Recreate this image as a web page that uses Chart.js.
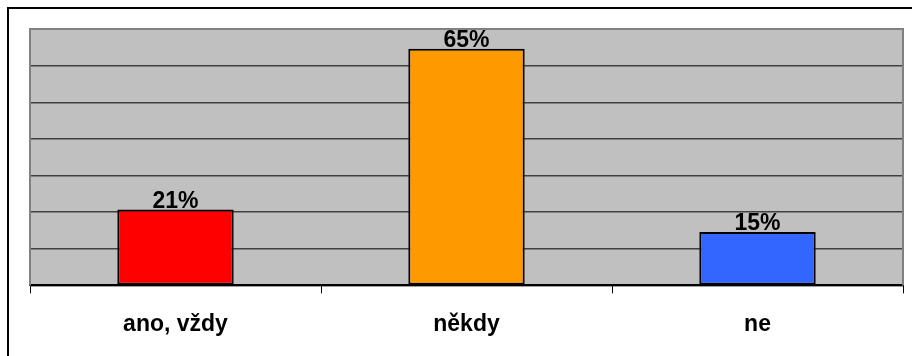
<!DOCTYPE html>
<html>
<head>
<meta charset="utf-8">
<script src="https://cdn.jsdelivr.net/npm/chart.js@4/dist/chart.umd.min.js"></script>
<style>
  html, body { margin: 0; padding: 0; background: #fff; overflow: hidden; }
  #wrap { position: relative; width: 912px; height: 356px; }
  #frame { position: absolute; left: 7px; top: 7px; width: 1000px; height: 500px;
           border-top: 2px solid #000; border-left: 2px solid #000; }
  #plot { position: absolute; left: 0; top: 0; }
</style>
</head>
<body>
<div id="wrap">
  <div id="frame"></div>
  <canvas id="plot" width="912" height="356"></canvas>
</div>
<script>
const categories = ['ano, vždy', 'někdy', 'ne'];
const values = [20.7, 64.6, 14.6];
const barColors = ['#FF0000', '#FF9900', '#3366FF'];
const yMax = 70;
const yStep = 10;

const plotBackground = {
    id: 'plotBackground',
    beforeDraw(chart) {
        const { ctx, chartArea: a } = chart;
        ctx.save();
        ctx.fillStyle = '#C0C0C0';
        ctx.fillRect(a.left, a.top, a.right - a.left, a.bottom - a.top);
        ctx.restore();
    },
    afterDraw(chart) {
        const { ctx, chartArea: a } = chart;
        ctx.save();
        ctx.strokeStyle = '#808080';
        ctx.lineWidth = 2;
        ctx.beginPath();
        ctx.moveTo(a.left, a.bottom);
        ctx.lineTo(a.left, a.top);
        ctx.lineTo(a.right, a.top);
        ctx.lineTo(a.right, a.bottom);
        ctx.stroke();
        ctx.restore();
    }
};

const valueLabels = {
    id: 'valueLabels',
    afterDatasetsDraw(chart) {
        const ctx = chart.ctx;
        const meta = chart.getDatasetMeta(0);
        ctx.save();
        ctx.font = 'bold 23px "Liberation Sans", Arial, sans-serif';
        ctx.fillStyle = '#000';
        ctx.textAlign = 'center';
        ctx.textBaseline = 'alphabetic';
        meta.data.forEach((bar, i) => {
            ctx.fillText(Math.round(values[i]) + '%', bar.x, bar.y - 2);
        });
        ctx.restore();
    }
};

let ctx = document.getElementById('plot');
var chart = new Chart(ctx, {
    type: 'bar',
    data: {
        labels: categories,
        datasets: [{
            data: values,
            backgroundColor: barColors,
            borderColor: '#000',
            borderWidth: 2,
            borderSkipped: false,
            categoryPercentage: 1,
            barPercentage: 0.4,
        }],
    },
    options: {
        responsive: false,
        animation: false,
        events: [],
        layout: { padding: { left: 30, right: 9, top: 29, bottom: 1 } },
        plugins: {
            legend: { display: false },
            tooltip: { enabled: false },
        },
        scales: {
            x: {
                offset: true,
                grid: {
                    offset: true,
                    drawOnChartArea: false,
                    drawTicks: true,
                    tickLength: 8,
                    color: '#000',
                    lineWidth: 1,
                },
                border: { display: true, color: '#000', width: 2 },
                ticks: {
                    color: '#000',
                    padding: 17,
                    font: { family: '"Liberation Sans", Arial, sans-serif', size: 23, weight: 'bold' },
                },
            },
            y: {
                min: 0,
                max: yMax,
                ticks: { display: false, stepSize: yStep },
                grid: { drawTicks: false, color: '#404040', lineWidth: 1.5 },
                border: { display: false },
            },
        },
    },
    plugins: [plotBackground, valueLabels],
});
</script>
</body>
</html>
